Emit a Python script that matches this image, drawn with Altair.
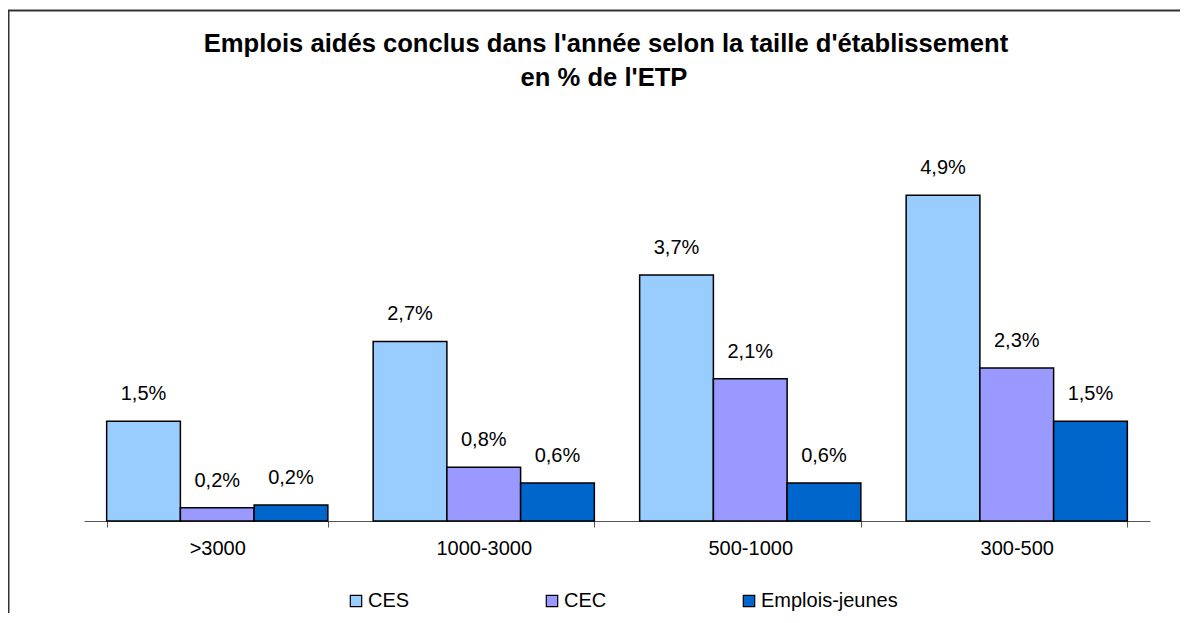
import altair as alt
import pandas as pd

categories = [">3000", "1000-3000", "500-1000", "300-500"]
series = ["CES", "CEC", "Emplois-jeunes"]
ces = [1.5, 2.7, 3.7, 4.9]
cec = [0.2, 0.81, 2.14, 2.3]
emplois_jeunes = [0.24, 0.57, 0.57, 1.5]
colors = ["#99CCFF", "#9999FF", "#0066CC"]
title_lines = ["Emplois aidés conclus dans l'année selon la taille d'établissement",
               "en % de l'ETP"]

rows = []
for s, vals in zip(series, [ces, cec, emplois_jeunes]):
    for c, v in zip(categories, vals):
        rows.append({"cat": c, "serie": s, "val": v,
                     "label": f"{v:.1f}".replace(".", ",") + "%"})
df = pd.DataFrame(rows)

W, H = 1066, 391
PL, PT, PR, PB = 76, 122, 30, 92
FONT = "Liberation Sans"

x_enc = alt.X("cat:N", sort=categories, title=None,
              scale=alt.Scale(paddingInner=0.17, paddingOuter=0.085),
              axis=alt.Axis(labelAngle=0, labelFontSize=20, labelFont=FONT,
                            labelColor="black", labelPadding=11, tickSize=6,
                            tickBand="extent", domainColor="#555555",
                            tickColor="#555555", grid=False))
xo_enc = alt.XOffset("serie:N", sort=series)
y_enc = alt.Y("val:Q", axis=None, scale=alt.Scale(domain=[0, H / 66.5], nice=False, zero=True))

base = alt.Chart(df)

bars = base.mark_bar(stroke="black", strokeWidth=1.5).encode(
    x=x_enc, xOffset=xo_enc, y=y_enc,
    color=alt.Color("serie:N", sort=series,
                    scale=alt.Scale(domain=series, range=colors),
                    legend=alt.Legend(title=None, orient="none", direction="horizontal",
                                      legendX=262, legendY=461,
                                      symbolType="square", symbolSize=130,
                                      symbolStrokeColor="black", symbolStrokeWidth=1.2,
                                      labelFontSize=20, labelFont=FONT, labelColor="black",
                                      labelOffset=2, columnPadding=132)),
)

labels = base.mark_text(fontSize=20, font=FONT, color="black", baseline="middle", dy=-27).encode(
    x=x_enc, xOffset=xo_enc, y=y_enc, text="label:N"
)

title1 = alt.Chart(alt.Data(values=[{"t": title_lines[0]}])).mark_text(
    fontSize=25.6, font=FONT, fontWeight="bold", color="black", align="center", baseline="alphabetic"
).encode(x=alt.value(W / 2 - 11), y=alt.value(-78), text="t:N")
title2 = alt.Chart(alt.Data(values=[{"t": title_lines[1]}])).mark_text(
    fontSize=25.6, font=FONT, fontWeight="bold", color="black", align="center", baseline="alphabetic"
).encode(x=alt.value(W / 2 - 13), y=alt.value(-44), text="t:N")

one = alt.Data(values=[{"k": 1}])
frame_top = alt.Chart(one).mark_rule(color="#333333", strokeWidth=2).encode(
    x=alt.value(-PL), x2=alt.value(W + PR), y=alt.value(-PT + 2.5)
)
frame_left = alt.Chart(one).mark_rule(color="#333333", strokeWidth=2).encode(
    x=alt.value(-PL + 0.5), y=alt.value(-PT + 2.5), y2=alt.value(H + PB)
)

chart = alt.layer(bars, labels, title1, title2, frame_top, frame_left).properties(
    width=W, height=H,
    padding={"left": PL, "top": PT, "right": PR, "bottom": PB},
    autosize=alt.AutoSizeParams(type="none"),
).configure(background="white").configure_view(stroke=None)

chart.save("out.html", embed_options={"renderer": "svg", "actions": False})
